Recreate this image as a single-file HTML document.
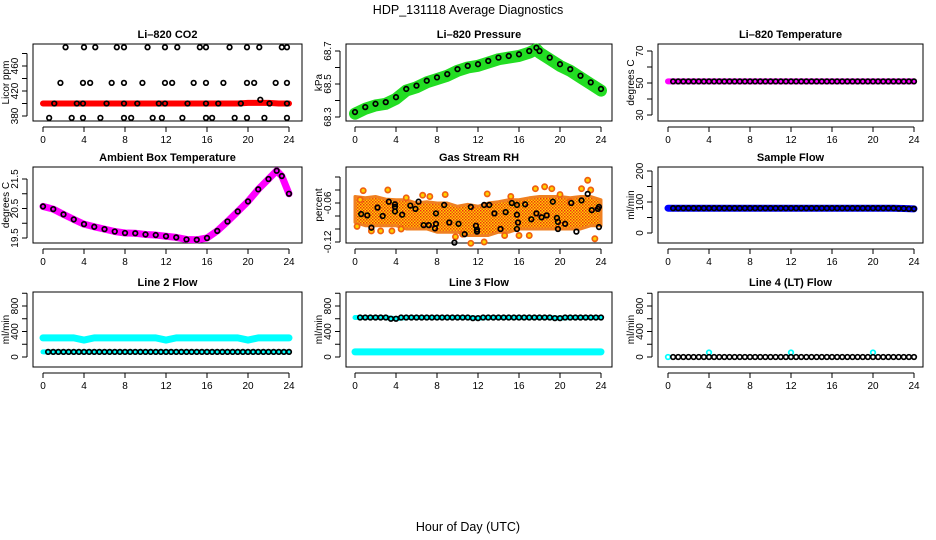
<!DOCTYPE html>
<html><head><meta charset="utf-8"><style>
html,body{margin:0;padding:0;background:#fff;}
svg{display:block;font-family:"Liberation Sans",sans-serif;}
</style></head><body>
<svg id="c" width="936" height="540" viewBox="0 0 936 540">
<defs>
<pattern id="rhpat" width="3" height="3" patternUnits="userSpaceOnUse"><rect width="3" height="3" fill="#ffd000"/><rect width="1.5" height="1.5" fill="#f03010"/><rect x="1.5" y="1.5" width="1.5" height="1.5" fill="#f05010"/></pattern>
</defs>
<text x="468" y="14" text-anchor="middle" font-size="12.5">HDP_131118  Average Diagnostics</text>
<text x="468" y="531" text-anchor="middle" font-size="12.5">Hour of Day (UTC)</text>
</svg>
<script>
// ---- data ----
const hours = [0,1,2,3,4,5,6,7,8,9,10,11,12,13,14,15,16,17,18,19,20,21,22,23,24];
const co2Band = [400,400,400,400,400,400,400,400,400,400,400,400,400,400,400,400,400,400,400,400,401,401,401,400,400];
const co2PtHours = [2.2,4.0,5.1,7.2,7.9,10.2,11.9,13.1,15.3,15.9,18.2,19.9,21.1,23.3,23.8, 1.7,3.9,4.6,6.7,7.9,9.7,11.9,12.6,14.7,15.9,17.6,19.9,20.6,22.7,23.8, 1.1,3.3,3.9,6.2,7.9,9.2,11.3,11.9,14.1,15.9,17.1,19.3,21.2,22.1,23.8, 0.6,2.8,3.9,5.6,7.9,8.6,10.7,11.6,13.6,15.9,16.5,18.7,19.9,21.6,23.8];
const co2PtVals = [490,490,490,490,490,490,490,490,490,490,490,490,490,490,490, 433,433,433,433,433,433,433,433,433,433,433,433,433,433,433, 400,400,400,400,400,400,400,400,400,400,400,400,406,400,400, 377,377,377,377,377,377,377,377,377,377,377,377,377,377,377];
const presHours = [0,1,2,3,4,5,6,7,8,9,10,11,12,13,14,15,16,17,17.7,18,19,20,21,22,23,24];
const presVals = [68.32,68.35,68.37,68.38,68.41,68.46,68.48,68.51,68.53,68.55,68.58,68.60,68.61,68.63,68.65,68.66,68.67,68.69,68.71,68.69,68.65,68.61,68.58,68.54,68.50,68.46];
const tempVals = [51,51,51,51,51,51,51,51,51,51,51,51,51,51,51,51,51,51,51,51,51,51,51,51,51];
const ambHours = [0,1,2,3,4,5,6,7,8,9,10,11,12,13,14,15,16,17,18,19,20,21,22,22.8,23.3,24];
const ambVals = [20.57,20.48,20.3,20.13,19.97,19.88,19.8,19.72,19.67,19.66,19.62,19.6,19.56,19.52,19.45,19.44,19.5,19.74,20.06,20.4,20.74,21.15,21.5,21.78,21.6,21.0];
const rhTop = [-0.05,-0.052,-0.05,-0.054,-0.055,-0.055,-0.06,-0.058,-0.06,-0.06,-0.065,-0.062,-0.065,-0.06,-0.058,-0.055,-0.055,-0.052,-0.05,-0.05,-0.05,-0.052,-0.05,-0.05,-0.055];
const rhBottom = [-0.09,-0.095,-0.095,-0.095,-0.095,-0.1,-0.1,-0.1,-0.105,-0.105,-0.105,-0.11,-0.11,-0.11,-0.105,-0.105,-0.1,-0.1,-0.1,-0.1,-0.1,-0.1,-0.1,-0.095,-0.095];
const rhOutHours = [0.2,0.8,1.6,2.5,3.2,3.6,4.5,6.6,7.3,8.8,9.8,11.3,12.6,12.9,14.6,16,17,17.6,18.5,19.2,20,22.1,22.7,23.4,23.0,0.5,5.0,10.5,15.2,21.0];
const rhOutVals = [-0.096,-0.041,-0.103,-0.103,-0.04,-0.103,-0.1,-0.048,-0.05,-0.047,-0.112,-0.122,-0.12,-0.046,-0.11,-0.11,-0.11,-0.038,-0.035,-0.038,-0.047,-0.038,-0.025,-0.115,-0.04,-0.055,-0.052,-0.108,-0.05,-0.058];
const rhPtHours = [0.6,1.2,1.6,2.2,2.7,3.3,3.9,3.9,3.9,4.6,5.4,5.9,6.2,6.7,7.2,7.8,7.9,7.9,8.7,9.2,9.7,10.1,10.7,11.3,11.8,11.9,11.9,12.6,13.1,13.6,14.2,14.7,15.3,15.8,15.8,15.9,15.8,16.6,17.2,17.7,18.2,18.7,19.3,19.7,19.8,19.8,20.5,21.1,21.6,22.1,22.7,23.1,23.7,23.8,23.8];
const rhPtVals = [-0.077,-0.079,-0.098,-0.067,-0.08,-0.058,-0.062,-0.073,-0.066,-0.078,-0.064,-0.069,-0.058,-0.094,-0.094,-0.099,-0.076,-0.092,-0.063,-0.09,-0.121,-0.092,-0.108,-0.066,-0.095,-0.101,-0.104,-0.063,-0.063,-0.076,-0.1,-0.074,-0.06,-0.063,-0.078,-0.09,-0.1,-0.062,-0.085,-0.076,-0.082,-0.079,-0.058,-0.083,-0.089,-0.1,-0.092,-0.06,-0.104,-0.056,-0.046,-0.071,-0.069,-0.066,-0.097];
const sampleVals = [80,80,80,80,80,80,80,80,80,80,80,80,80,80,80,80,80,80,80,80,80,80,80,79,78];
const line2High = [300,300,300,300,265,300,300,300,300,300,300,300,265,300,300,300,300,300,300,300,265,300,300,300,300];
const line2Low = [80,80,80,80,80,80,80,80,80,80,80,80,80,80,80,80,80,80,80,80,80,80,80,80,80];
const line3High = [620,620,620,620,600,620,620,620,620,620,620,620,610,620,620,620,620,620,620,620,610,620,620,620,620];
const line3Low = [80,80,80,80,80,80,80,80,80,80,80,80,80,80,80,80,80,80,80,80,80,80,80,80,80];
const line4Vals = [0,0,0,0,0,0,0,0,0,0,0,0,0,0,0,0,0,0,0,0,0,0,0,0,0];
const line4SpikeHours = [0,4,12,20];
const line4SpikeVals = [0,70,70,70];
const xTicks = [0,4,8,12,16,20,24];

// ---- drawing ----
const NS = 'http://www.w3.org/2000/svg';
const svg = document.getElementById('c');
function el(tag, attrs, parent){ const e = document.createElementNS(NS, tag); for (const k in attrs) e.setAttribute(k, attrs[k]); (parent||svg).appendChild(e); return e; }

function makePanel(p){
  const g = el('g', {});
  
  
  const xs = h => p.x0 + (p.x24 - p.x0) * h / 24;
  const ys = v => p.py1 + (v - p.v1) * (p.py2 - p.py1) / (p.v2 - p.v1);
  const t = el('text', {x:(p.l+p.r)/2, y:p.t-6, 'text-anchor':'middle', 'font-size':11, 'font-weight':'bold'}, g);
  t.textContent = p.title;
  
  
  const box = el('rect', {x:p.l, y:p.t, width:p.r-p.l, height:p.b-p.t, fill:'none', stroke:'#000', 'stroke-width':1}, g);
  
  
  const ax = el('g', {}, g);
  
  
  const ay0 = p.b + 6;
  el('line', {x1:xs(0), x2:xs(24), y1:ay0, y2:ay0, stroke:'#000'}, ax);
  xTicks.forEach(h => {
    el('line', {x1:xs(h), x2:xs(h), y1:ay0, y2:ay0+5, stroke:'#000'}, ax);
    const tl = el('text', {x:xs(h), y:p.b+22, 'text-anchor':'middle', 'font-size':10}, ax);
    tl.textContent = h;
    
    
  });
  const yax = el('g', {}, g);
  
  
  const axx = p.l - 6;
  el('line', {x1:axx, x2:axx, y1:ys(p.yTicks[0]), y2:ys(p.yTicks[p.yTicks.length-1]), stroke:'#000'}, yax);
  p.yTicks.forEach(v => { el('line', {x1:axx-5, x2:axx, y1:ys(v), y2:ys(v), stroke:'#000'}, yax); });
  p.yLabels.forEach(v => {
    const yl = el('text', {x:0, y:0, 'text-anchor':'middle', 'font-size':10, transform:`translate(${axx-9},${ys(v)}) rotate(-90)`}, yax);
    yl.textContent = v;
    
    
  });
  const yt = el('text', {x:0, y:0, 'text-anchor':'middle', 'font-size':10, transform:`translate(${p.l-24},${(p.t+p.b)/2}) rotate(-90)`}, g);
  yt.textContent = p.ylab;
  
  
  return {g, xs, ys};
}
function band(ctx, hs, vs, color, w, name){
  const pl = el('polyline', {points: hs.map((h,i)=>ctx.xs(h)+','+ctx.ys(vs[i])).join(' '), fill:'none', stroke:color, 'stroke-width':w, 'stroke-linejoin':'round', 'stroke-linecap':'round'}, ctx.g);
  
  
}
function pts(ctx, hs, vs, color, name, r, fill){
  hs.forEach((h,i)=>{
    const c = el('circle', {cx:ctx.xs(h), cy:ctx.ys(vs[i]), r:r||2.3, fill:fill||'none', stroke:color, 'stroke-width':1.7}, ctx.g);
    
    
  });
}
const halfHours = hours.slice(1).map(h => h - 0.5);
function flatPts(ctx, vals, color, name){
  pts(ctx, hours.slice(1), vals.slice(1), color, name);
}

let c1 = makePanel({name:'co2-panel', title:'Li\u2013820 CO2', ylab:'Licor ppm', l:33, r:302, t:44, b:121, x0:43, x24:289, v1:380, py1:116, v2:460, py2:66, yTicks:[380,400,420,440,460,480], yLabels:[380,420,460]});
band(c1, hours, co2Band, '#ff0000', 6, 'co2-band');
pts(c1, co2PtHours, co2PtVals, '#000', 'co2-point');

let c2 = makePanel({name:'pressure-panel', title:'Li\u2013820 Pressure', ylab:'kPa', l:346, r:612, t:44, b:121, x0:355, x24:601, v1:68.3, py1:117, v2:68.7, py2:51, yTicks:[68.3,68.4,68.5,68.6,68.7], yLabels:[68.3,68.5,68.7]});
band(c2, presHours, presVals, '#22dd22', 12, 'pressure-band');
pts(c2, presHours, presVals.map(v=>v+0.01), '#000', 'pressure-point');

let c3 = makePanel({name:'li820-temperature-panel', title:'Li\u2013820 Temperature', ylab:'degrees C', l:658, r:923, t:44, b:121, x0:668, x24:914, v1:30, py1:115, v2:70, py2:51, yTicks:[30,40,50,60,70], yLabels:[30,50,70]});
band(c3, hours, tempVals, '#ff00ff', 6, 'temperature-band');
pts(c3, halfHours, tempVals.slice(1), '#000', 'temperature-point');
flatPts(c3, tempVals, '#000', 'temperature-point');

let c4 = makePanel({name:'ambient-temperature-panel', title:'Ambient Box Temperature', ylab:'degrees C', l:33, r:302, t:167, b:243, x0:43, x24:289, v1:19.5, py1:238, v2:21.5, py2:179, yTicks:[19.5,20,20.5,21,21.5], yLabels:[19.5,20.5,21.5]});
band(c4, ambHours, ambVals, '#ff00ff', 7, 'ambient-band');
pts(c4, ambHours, ambVals, '#000', 'ambient-point');

let c5 = makePanel({name:'rh-panel', title:'Gas Stream RH', ylab:'percent', l:346, r:612, t:167, b:243, x0:355, x24:601, v1:-0.06, py1:203, v2:-0.12, py2:242, yTicks:[-0.12,-0.1,-0.08,-0.06,-0.04,-0.02], yLabels:[-0.12,-0.06]});
const up = hours.map((h,i)=>c5.xs(h)+','+c5.ys(rhTop[i]));
const dn = hours.map((h,i)=>c5.xs(h)+','+c5.ys(rhBottom[i])).reverse();
const poly = el('polygon', {points: up.concat(dn).join(' '), fill:'url(#rhpat)', stroke:'#f08020', 'stroke-width':3, 'stroke-linejoin':'round'}, c5.g);


pts(c5, rhOutHours, rhOutVals, '#f06010', 'rh-outlier', 2.6, '#ffd000');
pts(c5, rhPtHours, rhPtVals, '#000', 'rh-point');

let c6 = makePanel({name:'sample-flow-panel', title:'Sample Flow', ylab:'ml/min', l:658, r:923, t:167, b:243, x0:668, x24:914, v1:0, py1:233, v2:200, py2:171, yTicks:[0,50,100,150,200], yLabels:[0,100,200]});
band(c6, hours, sampleVals, '#0000ff', 7, 'sample-flow-band');
pts(c6, halfHours, sampleVals.slice(1), '#000', 'sample-flow-point');
flatPts(c6, sampleVals, '#000', 'sample-flow-point');

const r3 = {t:292, b:367, v1:0, py1:357, v2:800, py2:306, yTicks:[0,200,400,600,800,1000], yLabels:[0,400,800], ylab:'ml/min'};
let c7 = makePanel(Object.assign({name:'line2-flow-panel', title:'Line 2 Flow', l:33, r:302, x0:43, x24:289}, r3));
band(c7, hours, line2High, '#00ffff', 7, 'line2-high-band');
band(c7, hours, line2Low, '#00ffff', 5, 'line2-low-band');
pts(c7, halfHours, line2Low.slice(1), '#000', 'line2-point');
flatPts(c7, line2Low, '#000', 'line2-point');

let c8 = makePanel(Object.assign({name:'line3-flow-panel', title:'Line 3 Flow', l:346, r:612, x0:355, x24:601}, r3));
band(c8, hours, line3Low, '#00ffff', 7, 'line3-low-band');
band(c8, hours, line3High, '#00ffff', 5, 'line3-high-band');
pts(c8, halfHours, line3High.slice(1), '#000', 'line3-point');
flatPts(c8, line3High, '#000', 'line3-point');

let c9 = makePanel(Object.assign({name:'line4-flow-panel', title:'Line 4 (LT) Flow', l:658, r:923, x0:668, x24:914}, r3));
pts(c9, line4SpikeHours, line4SpikeVals, '#00ffff', 'line4-cyan-point');
pts(c9, halfHours, line4Vals.slice(1), '#000', 'line4-point');
flatPts(c9, line4Vals, '#000', 'line4-point');
</script>
</body></html>
